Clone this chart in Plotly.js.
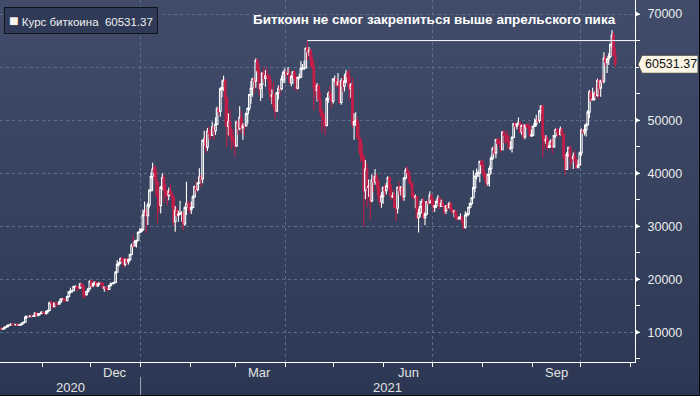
<!DOCTYPE html>
<html><head><meta charset="utf-8">
<script src="https://cdn.plot.ly/plotly-3.0.1.min.js"></script>
<style>
html,body{margin:0;padding:0;background:#05070c;}
#chart{width:699px;height:395px;background:linear-gradient(180deg,#404c6a 0%,#37435f 45%,#2e3a56 90%,#2b3752 100%);}
</style></head>
<body><div id="chart"></div>
<script>
// ---- data (prices in thousands of USD, one candle per day from startDate) ----
const startDate = '2020-10-06';
const firstOpen = 10.79;
const closes = [
10.60,10.67,10.92,11.07,11.30,11.38,11.56,11.43,11.43,11.51,11.32,11.36,11.50,11.75,11.92,12.82,12.97,12.93,13.11,13.03,13.08,13.65,13.27,13.44,13.55,13.78,
13.74,13.55,13.95,14.13,15.58,15.57,14.83,15.48,15.33,15.30,15.70,16.28,16.32,16.07,15.96,16.72,17.65,17.80,17.82,18.62,18.64,18.37,18.37,19.11,18.73,17.15,17.11,17.72,18.18,19.63,
18.80,19.20,19.45,18.70,19.15,19.35,19.19,18.32,18.55,18.26,18.06,18.80,19.14,19.25,19.42,21.31,22.81,23.14,23.87,23.48,22.80,23.78,23.24,23.74,24.66,26.44,26.27,27.08,27.36,28.84,29.00,
29.37,32.13,32.78,31.97,33.99,36.82,39.37,40.80,40.25,38.36,35.57,33.92,37.32,39.19,36.83,36.18,35.79,36.63,36.07,35.55,30.83,33.01,32.07,32.29,32.37,32.57,30.43,33.47,34.32,34.27,33.11,
33.54,35.51,37.47,36.93,38.14,39.27,38.90,46.20,46.48,44.92,47.91,47.50,47.11,48.72,47.95,49.20,52.15,51.68,55.89,56.10,57.54,54.21,48.83,49.71,47.09,46.34,46.19,45.14,
49.63,48.38,50.54,48.56,48.93,48.91,51.21,52.25,54.82,56.01,57.81,57.33,61.24,59.30,55.91,56.80,58.87,57.86,58.35,58.31,57.52,54.53,54.74,52.77,51.70,55.14,55.97,55.95,57.75,58.92,58.92,
58.73,58.74,57.06,58.21,59.05,57.97,56.03,58.08,58.14,59.77,59.80,59.82,63.53,62.90,63.05,61.45,60.07,56.15,55.60,56.47,53.80,51.70,51.15,50.10,49.00,54.00,55.00,54.80,53.55,57.75,
57.83,56.63,57.20,53.33,57.42,56.40,57.36,58.80,58.23,55.86,56.70,49.15,49.72,49.88,46.76,46.45,43.54,42.90,36.70,40.78,37.30,37.54,34.77,38.70,38.40,39.30,38.44,35.70,34.62,35.68,37.30,
36.70,37.57,39.19,36.87,35.52,35.80,33.55,33.40,37.35,36.70,37.33,35.55,39.10,40.52,40.14,38.35,38.05,35.79,35.48,35.60,31.60,32.50,33.70,34.66,31.60,32.25,34.65,34.45,35.87,35.04,
33.57,33.89,34.67,35.29,33.75,34.24,33.86,32.88,33.81,33.52,34.26,33.09,32.73,32.82,31.78,31.42,31.52,31.78,30.84,29.81,32.11,32.31,33.58,34.29,35.38,37.27,39.46,40.00,40.03,42.23,41.63,
39.97,39.20,38.15,39.75,40.87,42.82,44.62,43.82,46.29,45.60,45.59,44.43,47.79,47.10,47.05,45.94,44.70,44.80,46.72,49.34,48.90,49.32,49.55,47.71,48.99,46.85,49.07,48.90,48.83,47.05,47.17,
48.85,49.29,49.99,49.94,51.75,52.64,46.84,46.08,46.40,44.85,45.17,46.05,44.96,47.09,48.18,47.78,47.30,48.31,47.26,42.99,40.69,43.57,44.89,42.84,42.72,43.21,42.24,41.03,41.53,43.79,
48.12,47.71,48.20,49.11,51.51,55.36,53.81,53.97,54.97,54.66,57.48,56.04,57.40,57.33,61.67,60.88,61.53,62.01,64.28,65.99,62.21,60.53137
];
const highs = [
10.80,10.68,10.94,11.10,11.45,11.43,11.70,11.56,11.55,11.54,11.52,11.40,11.50,11.80,12.02,13.19,13.16,13.02,13.15,13.33,13.20,13.79,13.84,13.62,13.64,14.03,
13.86,13.80,14.05,14.23,15.74,15.96,15.70,15.63,15.80,15.46,15.94,16.32,16.48,16.34,16.12,16.88,17.76,18.39,18.02,18.77,18.92,18.70,18.76,19.35,19.39,18.90,17.40,17.85,18.30,19.75,
19.85,19.30,19.56,19.51,19.18,19.39,19.42,19.29,18.64,18.56,18.27,18.93,19.41,19.30,19.53,21.56,23.64,23.24,24.09,24.26,24.05,23.84,24.09,23.78,24.79,26.72,28.29,27.39,27.37,28.94,29.60,
29.60,33.16,34.61,33.44,34.44,36.88,40.18,41.95,41.44,41.35,38.40,36.63,37.60,40.00,39.70,37.90,36.80,37.30,37.85,36.40,35.60,33.80,33.60,32.95,34.80,32.80,32.60,33.75,38.40,34.86,34.29,
34.64,35.90,37.66,38.59,38.31,40.95,39.69,46.20,48.00,47.30,48.50,48.80,48.10,49.70,49.00,50.50,52.53,52.50,56.20,57.50,58.35,57.54,54.21,51.30,52.00,48.40,48.20,46.70,
49.80,50.10,52.60,51.70,49.40,49.20,51.45,52.40,54.90,57.39,58.00,58.00,61.68,61.60,60.60,56.90,58.97,60.10,59.40,59.90,58.60,58.40,55.80,57.20,53.20,55.14,56.60,56.50,58.40,59.40,59.80,
59.40,60.00,59.70,58.50,59.25,59.40,58.50,58.10,58.80,61.10,60.60,61.20,63.70,65.00,63.80,63.50,62.50,61.00,57.40,57.00,56.70,55.40,52.00,51.20,50.50,54.30,55.40,56.40,55.20,57.90,
58.40,57.90,58.90,57.20,57.90,58.30,58.60,59.50,59.20,59.50,57.00,58.00,51.30,51.50,50.60,49.40,46.60,45.60,43.50,42.50,41.90,38.80,38.20,39.80,39.70,40.80,40.00,38.80,37.20,36.40,37.50,
37.90,38.20,39.40,39.20,37.90,36.40,36.70,34.00,37.50,38.40,37.60,37.40,39.30,41.00,41.30,40.50,39.50,38.20,36.40,36.00,35.70,33.30,34.80,35.20,35.40,32.70,34.70,35.20,36.60,36.00,
35.10,33.90,35.00,35.90,35.30,35.00,35.00,33.90,34.00,34.20,34.60,34.60,33.30,33.10,33.00,32.20,31.90,32.40,31.90,31.00,32.80,32.60,33.60,34.50,35.40,40.50,39.50,40.90,40.60,42.30,42.30,
42.60,40.40,39.70,39.90,41.40,43.30,45.00,45.30,46.50,46.60,46.70,46.20,47.90,48.10,47.40,48.00,47.10,46.00,47.00,49.40,49.70,49.40,50.50,49.80,49.20,49.30,49.10,49.30,49.60,48.90,48.20,
48.90,50.30,51.00,50.50,51.90,52.80,52.90,47.30,47.20,47.00,45.90,46.40,46.60,47.20,48.40,48.50,48.10,48.80,48.40,47.30,43.60,44.00,45.00,45.10,42.90,43.90,44.30,42.80,42.60,44.10,
48.40,48.30,49.20,49.50,51.90,55.70,55.40,56.10,55.40,56.50,57.80,57.70,57.60,58.50,62.80,62.30,61.70,62.60,64.40,67.00,66.60,63.70
];
const lows = [
10.53,10.59,10.55,10.84,11.07,11.28,11.24,11.34,11.30,11.25,11.22,11.30,11.35,11.40,11.70,11.90,12.72,12.83,12.90,12.92,12.89,13.07,12.95,12.98,13.14,13.45,
13.62,13.24,13.31,13.55,14.09,15.27,14.40,14.72,14.83,15.08,15.26,15.46,15.99,15.70,15.80,15.88,16.68,17.28,17.42,17.77,18.45,17.70,18.03,18.16,18.60,16.35,16.52,16.90,17.52,18.18,
18.35,18.50,18.92,18.62,18.61,18.92,18.91,18.20,17.65,17.93,17.57,18.03,18.75,19.00,19.06,19.40,21.23,22.38,22.83,23.09,22.16,22.40,22.72,22.80,23.46,24.52,25.92,26.22,25.99,27.20,28.80,
28.80,29.09,32.05,28.72,30.22,33.51,36.49,36.57,38.72,35.64,30.55,32.53,32.38,36.80,34.40,35.40,33.90,34.90,35.90,33.40,30.07,28.95,31.70,30.84,32.10,30.84,29.24,30.02,32.10,32.87,32.33,
32.30,33.42,35.36,36.16,36.60,38.00,37.40,38.08,45.17,43.80,44.20,46.40,46.34,47.10,46.20,47.20,49.08,50.90,50.70,54.30,55.50,48.90,45.00,47.10,46.90,44.45,45.20,43.10,
45.00,47.20,48.10,47.50,46.30,47.10,48.90,49.30,51.80,53.10,54.40,55.10,56.10,59.00,54.70,53.60,54.15,57.00,56.30,57.90,55.50,53.70,53.00,52.10,50.40,51.60,53.90,54.70,55.60,57.00,57.00,
57.90,58.50,56.95,56.40,56.80,57.40,55.50,55.80,57.70,57.90,59.40,59.40,59.80,61.30,62.10,60.00,59.70,51.90,54.30,53.50,53.60,50.60,47.60,48.80,47.10,48.80,53.30,53.90,52.40,53.10,
57.10,56.10,56.50,53.10,52.90,55.30,55.40,56.90,56.30,53.70,54.20,48.60,46.30,48.90,46.60,43.90,42.10,42.30,30.00,35.10,33.60,35.50,31.20,34.50,36.50,37.80,37.20,34.80,33.70,33.50,34.20,
35.70,36.00,37.20,35.60,34.90,35.30,33.40,31.00,32.40,35.80,35.80,34.70,34.80,38.80,39.50,38.20,37.40,35.30,34.90,33.40,31.30,28.80,31.70,32.40,31.30,30.20,32.00,33.90,34.30,34.00,
32.70,32.70,33.40,34.30,33.20,33.60,33.80,32.10,32.30,33.10,33.30,32.70,32.30,31.70,31.20,31.10,31.20,31.20,30.50,29.30,29.50,31.80,32.00,33.40,33.90,35.30,36.40,38.80,39.30,38.30,41.10,
39.50,38.70,37.60,37.60,37.50,39.90,42.50,43.40,42.80,45.10,45.40,43.90,44.30,45.70,45.60,45.80,44.50,44.30,43.90,46.70,48.30,48.30,49.10,47.60,47.20,46.40,46.40,48.50,48.10,46.90,46.80,
46.90,48.70,48.80,49.50,49.50,51.10,42.90,44.50,45.50,44.20,44.80,44.80,43.60,44.80,46.70,47.10,46.80,47.10,46.90,42.60,39.60,40.60,43.10,40.90,41.80,40.80,42.10,40.90,41.00,41.40,
43.30,47.40,47.10,46.90,49.10,50.40,53.40,53.70,53.70,54.10,54.40,53.90,54.40,56.90,56.90,60.20,58.90,60.40,61.70,63.60,62.10,60.00
];
const yTickValues = [10000,20000,30000,40000,50000,60000,70000];
const yTickLabels = ['10000','20000','30000','40000','50000','','70000'];   // 60000 is covered by the last-price callout
const monthLabels = ['Dec','Mar','Jun','Sep'];
const monthLabelDates = ['2020-12-16','2021-03-16','2021-06-16','2021-09-16'];
const yearLabels = ['2020','2021'];
const yearBoundary = '2021-01-01';
const quarterDates = ['2021-01-01','2021-04-01','2021-07-01','2021-10-01'];
const peakMonth = '2021-04';
const seriesName = 'Курс биткоина';
const titleText = 'Биткоин не смог закрепиться выше апрельского пика';
const xRange = ['2020-10-05 19:00','2021-11-03 19:00'];
const yRange = [4400, 72650];

// ---- build ----
const W = 699, H = 395, M = {l:0, r:64, t:0, b:33};
const PW = W - M.l - M.r, PH = H - M.t - M.b;
const px = v => v / PW;             // horizontal px -> paper
const py = v => 1 - v / PH;         // vertical px from top -> paper
const yPaper = v => (v - yRange[0]) / (yRange[1] - yRange[0]);
const DAY = 86400000;
const t0 = Date.parse(startDate + 'T12:00:00Z');
const iso = t => new Date(t).toISOString().slice(0,16).replace('T',' ');
const dates = closes.map((_, i) => iso(t0 + i * DAY));
const K = 1000;
const close = closes.map(v => v * K);
const high = highs.map(v => v * K);
const low = lows.map(v => v * K);
const open = close.map((v, i) => i === 0 ? firstOpen * K : close[i - 1]);

const last = close[close.length - 1];
const lastText = last.toFixed(2);

let peakIdx = -1;
dates.forEach((d, i) => { if (d.startsWith(peakMonth) && (peakIdx < 0 || high[i] > high[peakIdx])) peakIdx = i; });

const FONT = 'Liberation Sans, Arial, sans-serif';
const NARROW = 'Liberation Sans Narrow, Arial Narrow, Liberation Sans, Arial, sans-serif';

const trace = {
  type: 'candlestick', x: dates, open: open, high: high, low: low, close: close,
  name: seriesName, hoverinfo: 'skip', whiskerwidth: 0,
  increasing: {line: {color: '#ffffff', width: 1.1}, fillcolor: 'rgba(0,0,0,0)'},
  decreasing: {line: {color: '#c41d48', width: 1.1}, fillcolor: '#c41d48'}
};

const shapes = [];
// April peak line
shapes.push({type:'line', xref:'x', yref:'y', x0: dates[peakIdx], x1: xRange[1], y0: high[peakIdx], y1: high[peakIdx],
  line:{color:'#ffffff', width:1}});
// y tick triangles (only where a label is shown)
const th = 3 / PH;
yTickValues.forEach((v, i) => {
  if (!yTickLabels[i]) return;
  const yp = yPaper(v);
  shapes.push({type:'path', xref:'paper', yref:'paper', layer:'above',
    path:`M ${1} ${yp+th} L ${1+px(5)} ${yp} L ${1} ${yp-th} Z`,
    fillcolor:'#ffffff', line:{width:0}});
});
// year separator
shapes.push({type:'line', xref:'x', yref:'paper', x0: yearBoundary, x1: yearBoundary, y0: py(377), y1: py(H),
  line:{color:'#9ea8bc', width:1}});
// last price callout
const ly = yPaper(last), lh = 9 / PH;
shapes.push({type:'path', xref:'paper', yref:'paper', layer:'above',
  path:`M ${1+px(3)} ${ly} L ${1+px(7)} ${ly+lh} L ${1+px(63)} ${ly+lh} L ${1+px(63)} ${ly-lh} L ${1+px(7)} ${ly-lh} Z`,
  fillcolor:'#fbf5e6', line:{color:'#4a4a4a', width:1}});

const annotations = [];
annotations.push({xref:'paper', yref:'paper', x: px(4), y: py(7), xanchor:'left', yanchor:'top', showarrow:false,
  text:'<span style="font-size:16px;color:#fbf1ee">■</span>\u00a0' + seriesName + '\u00a0\u00a0' + lastText,
  font:{family:FONT, size:11.5, color:'#f0f0f0'}, bgcolor:'#2e3a56', bordercolor:'#0e131c', borderwidth:1, borderpad:4, align:'left'});
annotations.push({xref:'paper', yref:'paper', x: px(434), y: py(20), xanchor:'center', yanchor:'middle', showarrow:false,
  text:'<b>' + titleText + '</b>', font:{family:FONT, size:13.5, color:'#ffffff'}});
annotations.push({xref:'paper', yref:'paper', x: 1 + px(8), y: ly, xanchor:'left', yanchor:'middle', showarrow:false,
  text: lastText, font:{family:FONT, size:12.5, color:'#111111'}});
monthLabels.forEach((m, i) => annotations.push({xref:'x', yref:'paper', x: monthLabelDates[i], y: py(372), xanchor:'center', yanchor:'middle',
  showarrow:false, text:m, font:{family:NARROW, size:13, color:'#e2e2e2'}}));
const tA = Date.parse(xRange[0].replace(' ','T')+':00Z'), tB = Date.parse(yearBoundary+'T00:00:00Z'), tC = Date.parse(xRange[1].replace(' ','T')+':00Z');
const yearCenters = [iso((tA + tB) / 2), iso((tB + tC) / 2)];
yearLabels.forEach((y, i) => annotations.push({xref:'x', yref:'paper', x: yearCenters[i], y: py(387), xanchor:'center', yanchor:'middle',
  showarrow:false, text:y, font:{family:NARROW, size:13, color:'#e2e2e2'}}));

const layout = {
  width: W, height: H, margin: M, showlegend: false,
  paper_bgcolor: 'rgba(0,0,0,0)', plot_bgcolor: 'rgba(0,0,0,0)',
  font: {family: FONT, color: '#e8e8e8'},
  boxgap: 0, boxgroupgap: 0,
  xaxis: {type:'date', range: xRange, rangeslider:{visible:false},
    tickmode:'array', tickvals: quarterDates, showticklabels:false,
    ticks:'outside', ticklen:4, tickcolor:'#ffffff',
    showgrid:true, gridcolor:'#5d6d8c', griddash:'3px,3px', gridwidth:1,
    minor:{ticks:'outside', ticklen:4, tickcolor:'#ffffff', dtick:'M1', tick0:'2020-01-01', showgrid:false},
    showline:true, linecolor:'#ffffff', linewidth:1, zeroline:false, fixedrange:true},
  yaxis: {side:'right', range: yRange, tickmode:'array', tickvals: yTickValues, ticktext: yTickLabels,
    ticks:'', ticklabelstandoff: 9, tickfont:{family:FONT, size:12.5, color:'#ececec'},
    showgrid:true, gridcolor:'#5d6d8c', griddash:'3px,3px', gridwidth:1,
    minor:{ticks:'outside', ticklen:4, tickcolor:'#ffffff', dtick:5000, tick0:0, showgrid:false},
    showline:true, linecolor:'#ffffff', linewidth:1, zeroline:false, fixedrange:true},
  shapes: shapes, annotations: annotations
};

Plotly.newPlot('chart', [trace], layout, {staticPlot:true, displayModeBar:false});
</script>
</body></html>
